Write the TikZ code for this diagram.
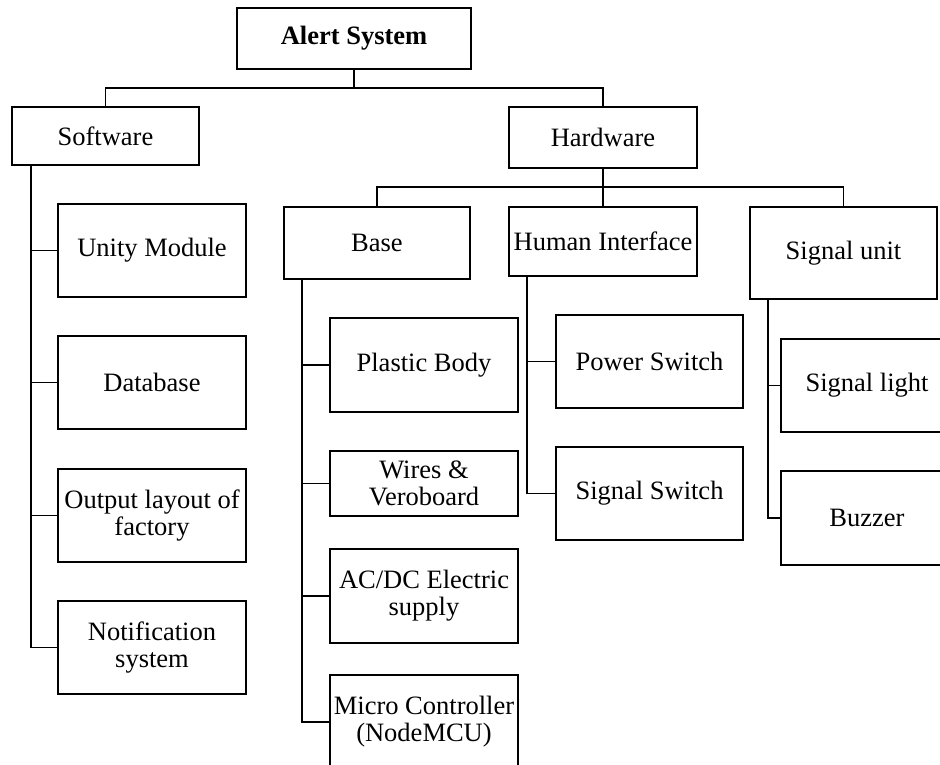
\documentclass[tikz,border=0pt]{standalone}
\usepackage{fontspec}
\setmainfont{Liberation Serif}
\usetikzlibrary{positioning}

\begin{document}
\begin{tikzpicture}[x=1pt,y=-1pt,line width=1.7pt,
    blk/.style={draw,rectangle,inner sep=0pt,align=center,minimum width=188,minimum height=93,font=\fontsize{26.5}{27}\selectfont},
    link/.style={line width=1.7pt}]
        \useasboundingbox (0,0) rectangle (940,765);
        \clip (0,0) rectangle (940,765);
        % top levels
        \node[blk,minimum width=234,minimum height=61,font=\fontsize{26.5}{27}\selectfont\bfseries] (alert) at (354,38.5) {Alert System};
        \node[blk,minimum width=187,minimum height=58] (soft) at (105.5,136) {Software};
        \node[blk,minimum height=61] (hard) at (603,137.5) {Hardware};
        \node[blk,minimum width=186,minimum height=72] (base) at (377,243) {Base};
        \node[blk,minimum height=69] (human) at (603,241.5) {Human Interface};
        \node[blk,minimum width=187,minimum height=92] (sigunit) at (843.5,253) {Signal unit};
        % software parts
        \node[blk] (unity) at (152,250.5) {Unity Module};
        \node[blk] (db) at (152,382.5) {Database};
        \node[blk] (layout) at (152,515.5) {Output layout of\\factory};
        \node[blk] (notif) at (152,647.5) {Notification\\system};
        % base parts
        \node[blk,minimum height=94] (plastic) at (424,365) {Plastic Body};
        \node[blk,minimum height=65] (wires) at (424,483.5) {Wires \&\\Veroboard};
        \node[blk,minimum height=94] (acdc) at (424,596) {AC/DC Electric\\supply};
        \node[blk,minimum height=94] (micro) at (424,722) {Micro Controller\\(NodeMCU)};
        % interface and signal parts
        \node[blk,minimum width=187] (power) at (649.5,361.5) {Power Switch};
        \node[blk,minimum width=187] (sigswitch) at (649.5,493.5) {Signal Switch};
        \node[blk,minimum width=172] (siglight) at (867,385.5) {Signal light};
        \node[blk,minimum width=172,minimum height=94] (buzzer) at (867,518) {Buzzer};
        % connectors
        \coordinate (bus1) at (354,88);
        \coordinate (bus2) at (603,187);
        \draw[link] (alert.south) -- (bus1);
        \draw[link] (soft.north) |- (bus1) -| (hard.north);
        \draw[link] (hard.south) -- (bus2) -- (human.north);
        \draw[link] (base.north) |- (bus2) -| (sigunit.north);
        \draw[link] (soft.south west) ++(20,0) coordinate (strunk) |- (notif.west);
        \draw[link] (base.south west) ++(19,0) coordinate (btrunk) |- (micro.west);
        \draw[link] (human.south west) ++(19,0) coordinate (htrunk) |- (sigswitch.west);
        \draw[link] (sigunit.south west) ++(19,0) coordinate (utrunk) |- (buzzer.west);
        \foreach \c in {unity,db,layout} {\draw[link] (strunk |- \c.west) -- (\c.west);}
        \foreach \c in {plastic,wires,acdc} {\draw[link] (btrunk |- \c.west) -- (\c.west);}
        \draw[link] (htrunk |- power.west) -- (power.west);
        \draw[link] (utrunk |- siglight.west) -- (siglight.west);
      \end{tikzpicture}
\end{document}
